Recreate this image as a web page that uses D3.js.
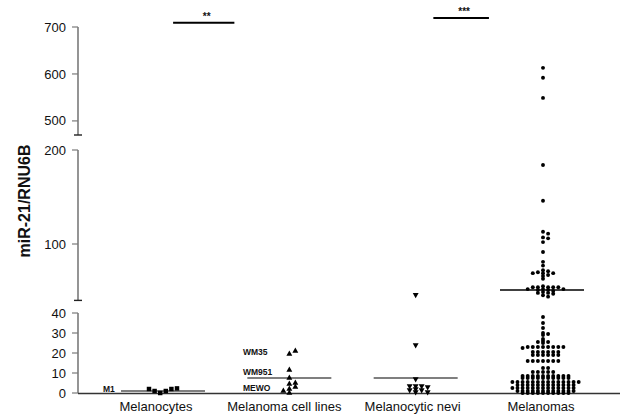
<!DOCTYPE html>
<html><head><meta charset="utf-8">
<script src="https://cdn.jsdelivr.net/npm/d3@7/dist/d3.min.js"></script>
<style>body{margin:0;background:#fff}svg{display:block}text{font-family:Arial,"Liberation Sans",sans-serif}</style>
</head><body>
<svg id="c" width="621" height="415"></svg>
<script>
// ---------- data ----------
const categories = ["Melanocytes", "Melanoma cell lines", "Melanocytic nevi", "Melanomas"];
const melanocytes = [0, 1, 1, 2, 2, 2.3];
const cellLines = [11.5, 19.5, 21, 7.5, 4.5, 5, 3, 2, 1, 0];
const nevi = [46, 24, 7, 3.5, 3.5, 3.5, 3, 2, 1.5, 1.5, 0.5, 0.5];
const melanomas = [
  613, 592, 549,
  184, 146,
  113, 111, 107, 106, 102,
  91.5,
  81, 77,
  72, 71, 70, 69, 69, 69, 67, 66, 63,
  55, 54, 54, 54, 54, 54,
  52, 52, 52, 51, 51,
  50, 49, 48, 48, 47, 45.5, 44,
  38, 35, 32.5, 30, 29.5, 29, 27, 26, 25.5, 25.5,
  25, 23, 23, 23, 23, 23, 23, 23, 23, 22.5,
  20.5, 20.5, 20.5, 20.5, 20.5, 20.5,
  19, 19, 19, 19, 19, 19,
  16, 16, 16, 16, 16, 16, 16,
  12.5, 12.5,
  10.5, 10.5, 10.5, 10.5, 10.5,
  8.5, 8.5, 8.5, 8.5, 8.5, 8.5, 8.5, 8.5, 8.5, 8.5,
  7.5, 7.5, 7.5, 7.5, 7.5, 7.5, 7.5, 7.5, 7.5, 7.5,
  5.5, 5.5, 5.5, 5.5, 5.5, 5.5, 5.5, 5.5, 5.5, 5.5, 5.5, 5.5, 5.5, 5.5,
  4, 4, 4, 4, 4, 4, 4, 4, 4, 4, 4, 4,
  2.5, 2.5, 2.5, 2.5, 2.5, 2.5, 2.5, 2.5, 2.5, 2.5, 2.5, 2.5, 2.5,
  1, 1, 1, 1, 1, 1, 1, 1, 1, 1, 1, 1,
  0, 0, 0, 0, 0, 0, 0, 0, 0, 0
];
const medians = [1, 7.5, 7.5, 51];
const segDomains = [[0, 40], [40, 200], [470, 700]];
const segTicks = [[0, 10, 20, 30, 40], [100, 200], [500, 600, 700]];
const cellLineLabels = [["WM35", 20.5], ["WM951", 10.5], ["MEWO", 2.5]];
const melanocyteLabel = ["M1", 1.5];
const significance = [["**", 0, 1, 709], ["***", 2, 3, 719]];

// ---------- scales ----------
const svg = d3.select("#c");
const axisX = 78;
const segRanges = [[393, 313], [300.4, 150], [135, 27]];
const segScales = segDomains.map((d, i) => d3.scaleLinear().domain(d).range(segRanges[i]));
function y(v) {
  if (v > 200) return segScales[2](v);
  if (v > 40) return segScales[1](v);
  return segScales[0](v);
}
const x = d3.scalePoint().domain(categories).range([163, 542]);
const labelX = d3.scalePoint().domain(categories).range([156, 541]);

// ---------- axes ----------
segScales.forEach((s, i) => {
  const g = svg.append("g").attr("transform", `translate(${axisX},0)`);
  const r = s.range();
  g.append("line").attr("x1", 0).attr("x2", 0).attr("y1", r[0]).attr("y2", r[1])
    .attr("stroke", "#7a7a7a").attr("stroke-width", 1.6);
  segTicks[i].forEach(t => {
    g.append("line").attr("x1", -6).attr("x2", 0).attr("y1", s(t)).attr("y2", s(t))
      .attr("stroke", "#7a7a7a").attr("stroke-width", 1.2);
    g.append("text").attr("x", -12).attr("y", s(t)).attr("dy", "0.35em")
      .attr("text-anchor", "end").attr("font-size", 13).attr("fill", "#111").text(t);
  });
  if (i > 0) g.append("line").attr("x1", -4).attr("x2", 4).attr("y1", r[0]).attr("y2", r[0])
    .attr("stroke", "#222").attr("stroke-width", 1.4);
});
svg.append("line").attr("x1", axisX).attr("x2", 620).attr("y1", 393.5).attr("y2", 393.5)
  .attr("stroke", "#333").attr("stroke-width", 1.4);
categories.forEach(c => {
  svg.append("text").attr("x", labelX(c)).attr("y", 411).attr("text-anchor", "middle")
    .attr("font-size", 13).attr("fill", "#111").text(c);
});
svg.append("text").attr("transform", "translate(30,201) rotate(-90)")
  .attr("text-anchor", "middle").attr("font-size", 16).attr("font-weight", "bold")
  .attr("fill", "#111").text("miR-21/RNU6B");

// ---------- swarm layout ----------
function swarm(values, cx, step, h) {
  const placed = [];
  values.forEach(v => {
    const py = y(v);
    for (let i = 0; ; i++) {
      const slot = i === 0 ? 0 : (i % 2 === 1 ? (i + 1) / 2 : -(i / 2));
      if (!placed.some(p => p.slot === slot && Math.abs(p.py - py) < h)) {
        placed.push({ v, py, slot }); break;
      }
    }
  });
  return placed.map(p => ({ x: cx + p.slot * step, y: p.py }));
}

const medianW = 84;
categories.forEach((c, i) => {
  svg.append("line").attr("x1", x(c) - medianW / 2).attr("x2", x(c) + medianW / 2)
    .attr("y1", y(medians[i])).attr("y2", y(medians[i]))
    .attr("stroke", i === 3 ? "#000" : "#555").attr("stroke-width", 1.5);
});

const groups = [
  { vals: melanocytes, cx: x(categories[0]) - 2.8, step: 5.6, h: 6, sym: d3.symbolSquare, size: 20, rot: 0 },
  { vals: cellLines, cx: x(categories[1]), step: 6, h: 4, sym: d3.symbolTriangle, size: 15, rot: 0 },
  { vals: nevi, cx: x(categories[2]), step: 6, h: 2.5, sym: d3.symbolTriangle, size: 15, rot: 180 },
  { vals: melanomas, cx: x(categories[3]) + 1, step: 5.1, h: 1.9, sym: d3.symbolCircle, size: 12, rot: 0 }
];
groups.forEach(gr => {
  const pts = swarm(gr.vals, gr.cx, gr.step, gr.h);
  svg.append("g").selectAll("path").data(pts).join("path")
    .attr("d", d3.symbol().type(gr.sym).size(gr.size))
    .attr("transform", d => `translate(${d.x},${d.y}) rotate(${gr.rot})`)
    .attr("fill", "#000");
});

cellLineLabels.forEach(([t, v]) => {
  svg.append("text").attr("x", 243).attr("y", y(v)).attr("dy", "0.35em")
    .attr("font-size", 8.5).attr("font-weight", "bold").attr("fill", "#111").text(t);
});
svg.append("text").attr("x", 103).attr("y", y(melanocyteLabel[1])).attr("dy", "0.2em")
  .attr("font-size", 8.5).attr("font-weight", "bold").attr("fill", "#111").text(melanocyteLabel[0]);

const frac = [[0.08, 0.565], [0.14, 0.58]];
significance.forEach(([t, a, b, v], i) => {
  const xa = x(categories[a]), xb = x(categories[b]);
  const x1 = xa + frac[i][0] * (xb - xa), x2 = xa + frac[i][1] * (xb - xa);
  svg.append("line").attr("x1", x1).attr("x2", x2).attr("y1", y(v)).attr("y2", y(v))
    .attr("stroke", "#000").attr("stroke-width", 2);
  svg.append("text").attr("x", (x1 + x2) / 2 + 3).attr("y", y(v) - 3).attr("text-anchor", "middle")
    .attr("font-size", 10).attr("font-weight", "bold").attr("fill", "#111").text(t);
});
</script>
</body></html>
